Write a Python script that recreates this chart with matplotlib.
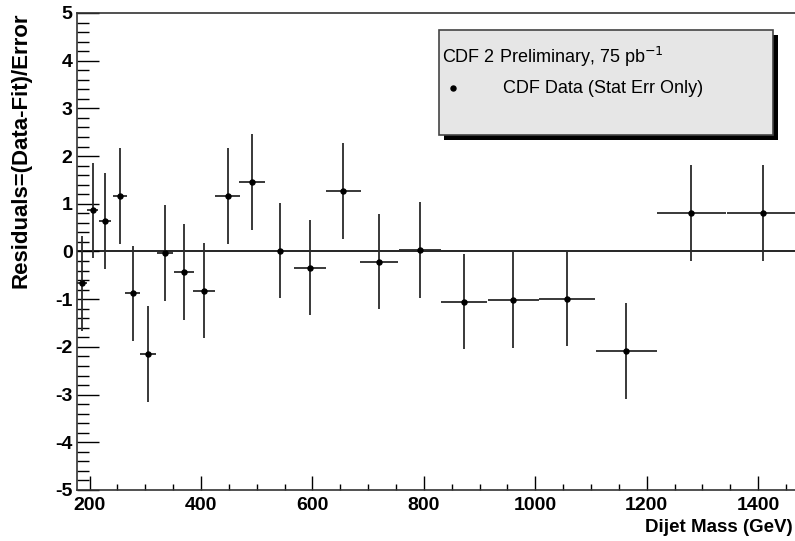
import matplotlib
matplotlib.use('Agg')
import matplotlib.pyplot as plt
from matplotlib.patches import Rectangle
from matplotlib.lines import Line2D
from matplotlib.ticker import MultipleLocator

plt.rcParams['font.family'] = ['Liberation Sans', 'DejaVu Sans']
plt.rcParams['axes.unicode_minus'] = False

# dijet mass bin centres and half widths (GeV)
mass = [186.5, 205.7, 227.7, 254.7, 277.4, 305.4, 335.4, 369.5, 405.9, 447.9, 492.0,
        541.0, 595.6, 655.3, 720.0, 793.5, 872.5, 960.4, 1056.7, 1163.0, 1280.0, 1408.0]
mass_halfwidth = [9, 10, 11, 12, 14, 14.5, 15, 17.5, 20, 22, 23,
                  25, 29, 31, 34, 38, 41, 46, 50, 55, 62, 64]
# residuals (data - fit) / error
residual = [-0.67, 0.86, 0.64, 1.16, -0.88, -2.15, -0.03, -0.43, -0.82, 1.16, 1.46,
            0.02, -0.34, 1.27, -0.21, 0.03, -1.05, -1.02, -0.99, -2.09, 0.81, 0.81]
residual_err = [1.0, 1.0, 1.0, 1.0, 1.0, 1.0, 1.0, 1.0, 1.0, 1.0, 1.0,
                1.0, 1.0, 1.0, 1.0, 1.0, 1.0, 1.0, 1.0, 1.0, 1.0, 1.0]

fig = plt.figure(figsize=(7.95, 5.41), dpi=100)
ax = fig.add_axes([0.0965, 0.0943, 0.9035, 0.8817])

ax.errorbar(mass, residual, xerr=mass_halfwidth, yerr=residual_err, fmt='o',
            ms=3.6, color='black', ecolor='#2a2a2a', elinewidth=1.3, capsize=0, zorder=3)
ax.axhline(0, color='black', lw=1.2, zorder=2)

ax.set_xlim(177, 1466)
ax.set_ylim(-5, 5)

ax.xaxis.set_major_locator(MultipleLocator(200))
ax.xaxis.set_minor_locator(MultipleLocator(50))
ax.yaxis.set_major_locator(MultipleLocator(1))
ax.yaxis.set_minor_locator(MultipleLocator(0.2))

ax.tick_params(axis='x', which='major', direction='in', length=10, width=1, pad=5,
               labelsize=14)
ax.tick_params(axis='x', which='minor', direction='in', length=4.3, width=1)
ax.tick_params(axis='y', which='major', direction='in', length=15.6, width=1, pad=3,
               labelsize=14)
ax.tick_params(axis='y', which='minor', direction='in', length=8.4, width=1)
for lab in ax.get_xticklabels() + ax.get_yticklabels():
    lab.set_fontweight('bold')

ax.spines['right'].set_visible(False)
for s in ['left', 'bottom', 'top']:
    ax.spines[s].set_color('#333333')
    ax.spines[s].set_linewidth(1.2)

fig.text(21 / 795, 1 - 12 / 541, 'Residuals=(Data-Fit)/Error', rotation=90,
         ha='center', va='top', fontsize=16, fontweight='bold')
fig.text(793 / 795, 13 / 541, 'Dijet Mass (GeV)', ha='right', va='center',
         fontsize=13.5, fontweight='bold')

# legend box with shadow
bx, by, bw, bh = 439.3 / 795, 1 - 135 / 541, 334 / 795, 105 / 541
fig.add_artist(Rectangle((bx + 5 / 795, by - 5 / 541), bw, bh, transform=fig.transFigure,
                         facecolor='black', edgecolor='none', zorder=5))
fig.add_artist(Rectangle((bx, by), bw, bh, transform=fig.transFigure,
                         facecolor='#e6e6e6', edgecolor='#444444', lw=1.2, zorder=6))
fig.text(442 / 795, 1 - 57 / 541, 'CDF 2 Preliminary, 75 pb$^{-1}$', ha='left',
         va='center', fontsize=13, zorder=7)
fig.add_artist(Line2D([453 / 795], [1 - 88.3 / 541], transform=fig.transFigure,
                      marker='o', ms=3.6, color='black', zorder=7))
fig.text(503 / 795, 1 - 88 / 541, 'CDF Data (Stat Err Only)', ha='left',
         va='center', fontsize=13, zorder=7)

fig.savefig('out.png', dpi=100)
